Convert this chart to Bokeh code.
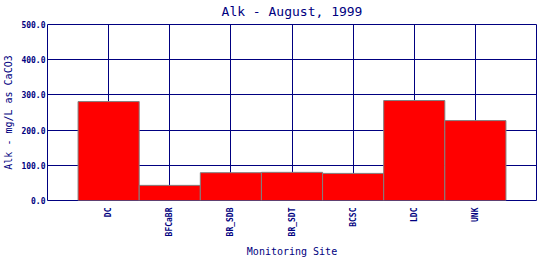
from bokeh.plotting import figure
from bokeh.models import FixedTicker, ColumnDataSource, Range1d
from bokeh.embed import file_html
from bokeh.resources import INLINE

sites = ["DC", "BFCaBR", "BR_SDB", "BR_SDT", "BCSC", "LDC", "UNK"]
alk = [281, 43, 79, 80, 77, 284, 227]
y_ticks = [0, 100, 200, 300, 400, 500]

NAVY = "#000080"
idx = list(range(len(sites)))
src = ColumnDataSource(dict(x=idx, top=alk))

p = figure(width=540, height=260, output_backend="svg", toolbar_location=None,
           x_range=Range1d(-1, len(sites)), y_range=Range1d(0, 500),
           min_border_left=47, min_border_right=4, min_border_top=24, min_border_bottom=60)

p.vbar(x="x", top="top", width=1.0, source=src, fill_color="#ff0000",
       line_color="#808080", line_width=1)

p.title.text = "Alk - August, 1999"
p.title.align = "center"
p.title.vertical_align = "top"
p.title.text_font = "DejaVu Sans Mono"
p.title.text_font_size = "13px"
p.title.text_font_style = "normal"
p.title.text_color = NAVY
p.title.offset = 0
p.title.standoff = 7

p.outline_line_color = NAVY
p.outline_line_width = 1
p.outline_line_alpha = 1

for ax in (p.xaxis[0], p.yaxis[0]):
    ax.axis_line_color = None
    ax.major_tick_line_color = None
    ax.minor_tick_line_color = None
    ax.major_tick_out = 0
    ax.major_tick_in = 0
    ax.minor_tick_out = 0
    ax.minor_tick_in = 0
    ax.major_label_text_font = "DejaVu Sans Mono"
    ax.major_label_text_font_size = "8px"
    ax.major_label_text_font_style = "bold"
    ax.major_label_text_color = NAVY
    ax.axis_label_text_font = "DejaVu Sans Mono"
    ax.axis_label_text_font_size = "10px"
    ax.axis_label_text_font_style = "normal"
    ax.axis_label_text_color = NAVY

p.xaxis.ticker = FixedTicker(ticks=idx)
p.xaxis.major_label_overrides = {i: s for i, s in enumerate(sites)}
p.xaxis.major_label_orientation = 1.5708
p.xaxis.major_label_standoff = 7
p.xaxis.axis_label = "Monitoring Site"
p.xaxis.axis_label_standoff = 7

p.yaxis.ticker = FixedTicker(ticks=y_ticks)
p.yaxis.major_label_overrides = {t: f"{t:.1f}" for t in y_ticks}
p.yaxis.major_label_standoff = 2
p.yaxis.axis_label = "Alk - mg/L as CaCO3"
p.yaxis.axis_label_standoff = 4

p.xgrid.ticker = FixedTicker(ticks=idx)
p.ygrid.ticker = FixedTicker(ticks=y_ticks)
for g in (p.xgrid[0], p.ygrid[0]):
    g.grid_line_color = NAVY
    g.grid_line_width = 1
    g.grid_line_alpha = 1

open("out.html", "w").write(file_html(p, INLINE))
